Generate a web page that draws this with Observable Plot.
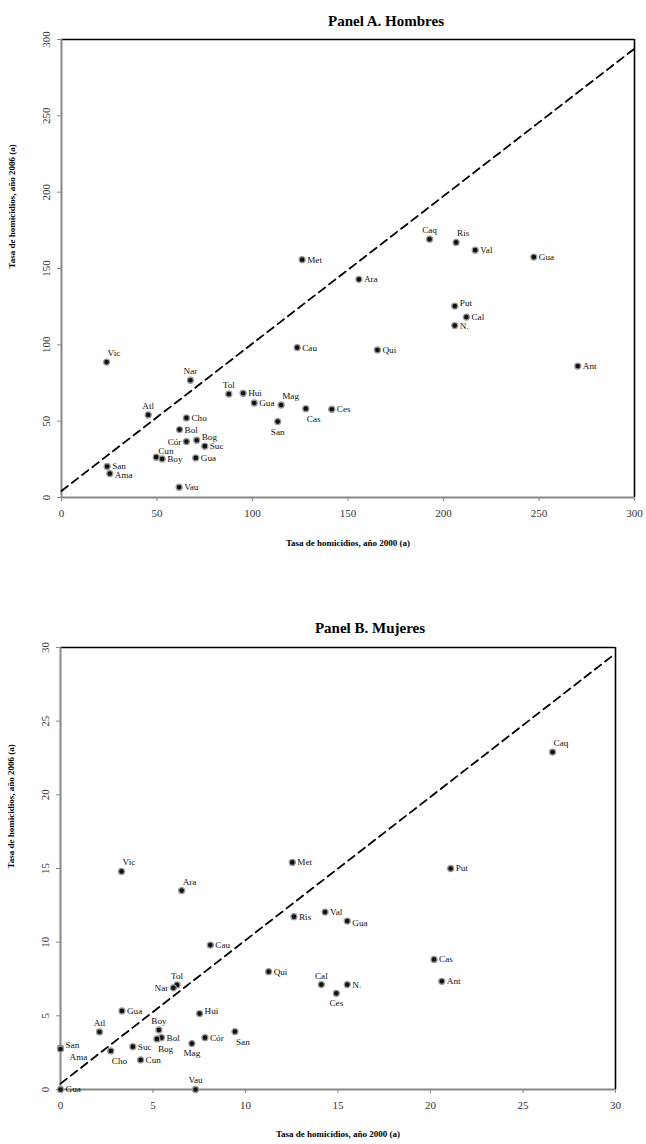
<!DOCTYPE html>
<html><head><meta charset="utf-8">
<script src="https://cdn.jsdelivr.net/npm/d3@7"></script>
<script src="https://cdn.jsdelivr.net/npm/@observablehq/plot@0.6"></script>
<style>
body{margin:0;background:#fff;}
#wrap{position:relative;width:646px;height:1144px;font-family:"Liberation Serif",serif;overflow:hidden;}
.ttl{position:absolute;font-weight:bold;font-size:15px;transform:translate(-50%,-50%);white-space:nowrap;color:#000;}
.pan{position:absolute;left:0;}
</style></head><body>
<div id="wrap">
<div class="pan" id="a" style="top:0"></div>
<div class="pan" id="b" style="top:600px"></div>
<div class="ttl" style="left:386px;top:21px">Panel A. Hombres</div>
<div class="ttl" style="left:370px;top:628px">Panel B. Mujeres</div>
</div>
<script>
// ---- Panel A: Hombres ----
const namesA = ["Vic","Nar","Atl","Tol","Hui","Gua","Mag","Cas","Ces","San","Cho","Bol","Cór","Bog","Suc","Cun","Boy","Gua","San","Ama","Vau","Caq","Ris","Val","Gua","Met","Ara","Put","Cal","N.","Cau","Qui","Ant"];
const x2000A = [23.6,67.5,45.4,87.6,95.1,100.9,115.0,127.9,141.5,113.2,65.4,61.8,65.4,70.8,75.0,49.6,52.7,70.3,23.9,25.3,61.6,192.7,206.6,216.6,247.3,126.0,155.7,205.9,212.0,205.9,123.4,165.4,270.3];
const y2006A = [88.7,76.8,54.1,67.8,68.3,61.9,60.6,58.2,57.8,49.7,52.1,44.5,36.6,37.5,33.6,26.4,25.3,25.9,20.3,15.7,6.7,169.2,167.1,162.0,157.5,155.8,142.9,125.4,118.2,112.6,98.2,96.6,86.1];
const ticksA = [0,50,100,150,200,250,300];
const refXA = [0,300];
const refYA = [4.3,294];

// ---- Panel B: Mujeres ----
const namesB = ["Gua","Hui","Atl","Boy","Bol","Bog","Cór","San","Mag","San","Ama","Suc","Cho","Cun","Vau","Gua","Vic","Ara","Cau","Tol","Nar","Qui","Met","Put","Ris","Val","Gua","Cas","Ant","Cal","N.","Ces","Caq"];
const x2000B = [3.32,7.52,2.11,5.32,5.46,5.21,7.81,9.43,7.10,0,0,3.91,2.72,4.33,7.30,0,3.3,6.55,8.1,6.3,6.1,11.25,12.53,21.09,12.62,14.30,15.50,20.19,20.61,14.10,15.50,14.91,26.6];
const y2006B = [5.33,5.15,3.91,4.04,3.52,3.43,3.52,3.93,3.12,2.82,2.75,2.91,2.62,2.01,0,0,14.8,13.5,9.8,7.1,6.9,8.0,15.41,15.0,11.73,12.04,11.43,8.83,7.34,7.12,7.12,6.53,22.9];
const ticksB = [0,5,10,15,20,25,30];
const refXB = [0,29.8];
const refYB = [0.4,29.4];

const xTitle = "Tasa de homicidios, año 2000 (a)";
const yTitle = "Tasa de homicidios, año 2006 (a)";

// label placement (r=right, ru=right-up, rd=right-down, l=left, t=top, tr=top-right, tl=low top-right, b=bottom, br=bottom-right)
const placeA = ["tr","t","t","t","r","r","tr","br","r","b","r","r","l","ru","r","tl","r","r","r","rd","r","t","tr","r","r","r","r","ru","r","r","r","r","r"];
const placeB = ["r","ru","t","t","r","br","r","br","b","ru","ama","r","br","r","t","r","tr","tr","r","t","l","r","r","r","r","r","rd","r","r","t","r","b","tr"];

const offs = {
  r:  {dx: 5, dy: 0, textAnchor: "start"},
  ru: {dx: 5, dy: -3, textAnchor: "start"},
  rd: {dx: 5, dy: 2, textAnchor: "start"},
  l:  {dx: -5, dy: 0, textAnchor: "end"},
  t:  {dx: 0, dy: -9, textAnchor: "middle"},
  tr: {dx: 1, dy: -9, textAnchor: "start"},
  tl: {dx: 2, dy: -6.5, textAnchor: "start"},
  b:  {dx: 0, dy: 10, textAnchor: "middle"},
  br: {dx: 1, dy: 10, textAnchor: "start"},
  ama:{dx: 9, dy: 8, textAnchor: "start"}
};

function panel({names, xs, ys, place, ticks, refX, refY, height, margins, xdy}) {
  const data = names.map((n, i) => ({n, x: xs[i], y: ys[i], p: place[i]}));
  const ref = refX.map((x, i) => ({x, y: refY[i]}));
  const lo = ticks[0], hi = ticks[ticks.length - 1];
  const labels = Object.keys(offs).map(k =>
    Plot.text(data.filter(d => d.p === k), {x: "x", y: "y", text: "n", fontSize: 9.2, fill: "#111", ...offs[k]}));
  return Plot.plot({
    width: 646, height, ...margins,
    style: {fontFamily: "Liberation Serif, serif", background: "transparent", overflow: "visible"},
    x: {domain: [lo, hi]}, y: {domain: [lo, hi]},
    marks: [
      Plot.ruleX([hi], {stroke: "#000", strokeWidth: 1.6}),
      Plot.ruleY([hi], {stroke: "#000", strokeWidth: 1.6}),
      Plot.axisX({ticks, tickSize: 4, stroke: "#888", fill: "#333", fontSize: 11, tickPadding: 8, label: null}),
      Plot.axisY({ticks, tickSize: 4, tickRotate: -90, stroke: "#888", fill: "#333", fontSize: 11, tickPadding: 8, label: null}),
      Plot.ruleX([lo], {stroke: "#888", strokeWidth: 2}),
      Plot.ruleY([lo], {stroke: "#888", strokeWidth: 2}),
      Plot.line(ref, {x: "x", y: "y", stroke: "#000", strokeWidth: 1.8, strokeDasharray: "8,5"}),
      Plot.dot(data, {x: "x", y: "y", r: 3, fill: "#111", stroke: "#999", strokeWidth: 1.3}),
      ...labels,
      Plot.text([xTitle], {text: d => d, frameAnchor: "bottom", dy: xdy, fontWeight: "bold", fontSize: 9, fill: "#000"}),
      Plot.text([yTitle], {text: d => d, frameAnchor: "left", dx: -49, rotate: -90, fontWeight: "bold", fontSize: 9, fill: "#000"})
    ]
  });
}

document.getElementById("a").append(panel({
  names: namesA, xs: x2000A, ys: y2006A, place: placeA, ticks: ticksA, refX: refXA, refY: refYA,
  height: 560, margins: {marginTop: 39, marginBottom: 63, marginLeft: 61, marginRight: 12}, xdy: 48
}));
document.getElementById("b").append(panel({
  names: namesB, xs: x2000B, ys: y2006B, place: placeB, ticks: ticksB, refX: refXB, refY: refYB,
  height: 544, margins: {marginTop: 47, marginBottom: 55, marginLeft: 60, marginRight: 31}, xdy: 47
}));
</script>
</body></html>
